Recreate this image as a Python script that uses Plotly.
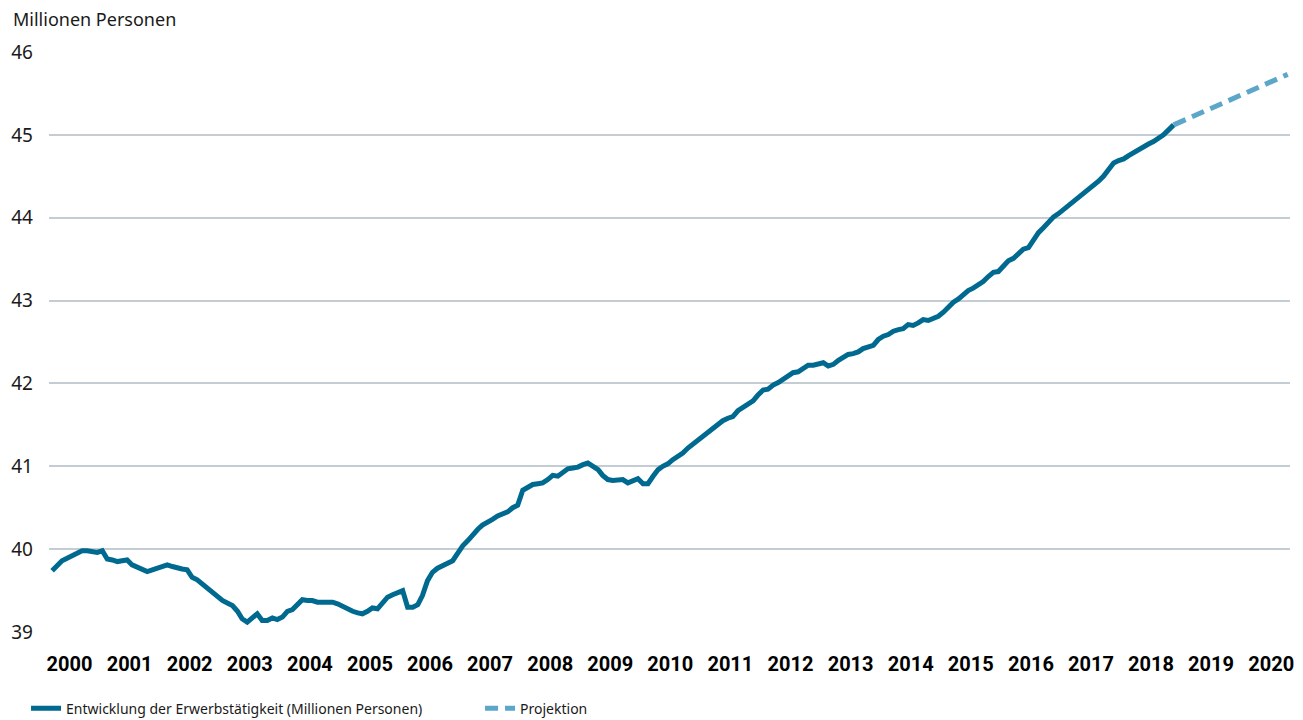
import pandas as pd
import plotly.graph_objects as go

# Erwerbstaetige, monatlich ab Januar 2000 (Millionen Personen)
start_monat = "2000-01-01"
erwerbstaetige = [
    # 2000
    39.74, 39.80, 39.86, 39.89, 39.92, 39.95, 39.98, 39.98, 39.97, 39.96, 39.98, 39.88,
    # 2001
    39.87, 39.85, 39.86, 39.87, 39.81, 39.78, 39.76, 39.73, 39.75, 39.77, 39.79, 39.81,
    # 2002
    39.79, 39.77, 39.76, 39.75, 39.66, 39.63, 39.58, 39.53, 39.47, 39.42, 39.38, 39.35,
    # 2003
    39.32, 39.25, 39.16, 39.12, 39.17, 39.22, 39.14, 39.14, 39.17, 39.15, 39.18, 39.25,
    # 2004
    39.27, 39.33, 39.39, 39.38, 39.38, 39.36, 39.36, 39.37, 39.36, 39.34, 39.31, 39.27,
    # 2005
    39.25, 39.23, 39.22, 39.25, 39.29, 39.28, 39.36, 39.42, 39.45, 39.47, 39.50, 39.30,
    # 2006
    39.30, 39.33, 39.44, 39.62, 39.72, 39.77, 39.80, 39.82, 39.86, 39.95, 40.04, 40.10,
    # 2007
    40.18, 40.24, 40.29, 40.32, 40.36, 40.40, 40.43, 40.45, 40.50, 40.53, 40.71, 40.75,
    # 2008
    40.78, 40.79, 40.80, 40.84, 40.89, 40.88, 40.93, 40.97, 40.98, 40.99, 41.02, 41.04,
    # 2009
    41.00, 40.96, 40.89, 40.84, 40.83, 40.83, 40.84, 40.80, 40.83, 40.85, 40.79, 40.79,
    # 2010
    40.88, 40.96, 41.00, 41.03, 41.08, 41.12, 41.16, 41.22, 41.27, 41.30, 41.36, 41.41,
    # 2011
    41.45, 41.50, 41.55, 41.58, 41.60, 41.67, 41.71, 41.74, 41.79, 41.86, 41.92, 41.93,
    # 2012
    41.98, 42.01, 42.05, 42.09, 42.13, 42.14, 42.18, 42.22, 42.22, 42.23, 42.25, 42.21,
    # 2013
    42.23, 42.28, 42.31, 42.35, 42.36, 42.38, 42.42, 42.44, 42.46, 42.53, 42.57, 42.59,
    # 2014
    42.63, 42.65, 42.66, 42.71, 42.70, 42.73, 42.77, 42.76, 42.78, 42.81, 42.86, 42.93,
    # 2015
    42.98, 43.02, 43.07, 43.12, 43.15, 43.19, 43.23, 43.29, 43.34, 43.35, 43.42, 43.48,
    # 2016
    43.51, 43.56, 43.62, 43.64, 43.74, 43.82, 43.88, 43.95, 44.01, 44.05, 44.10, 44.14,
    # 2017
    44.18, 44.23, 44.29, 44.34, 44.39, 44.44, 44.50, 44.57, 44.66, 44.69, 44.71, 44.75,
    # 2018
    44.79, 44.82, 44.86, 44.89, 44.92, 44.96, 45.00, 45.06, 45.12,
]

# Projektion: vom letzten Ist-Wert bis Mitte 2020
projektion_datum = ["2018-09-01", "2020-07-25"]
projektion_wert = [45.12, 45.73]

jahre = list(range(2000, 2021))
y_ticks = [39, 40, 41, 42, 43, 44, 45, 46]

monate = pd.date_range(start_monat, periods=len(erwerbstaetige), freq="MS")

dunkelblau = "#00698f"
hellblau = "#5ba6c9"
grid = "#c4cdd3"
text = "#1a1a1a"

fig = go.Figure()
fig.add_trace(go.Scatter(
    x=monate, y=erwerbstaetige, mode="lines",
    name="Entwicklung der Erwerbstätigkeit (Millionen Personen)",
    line=dict(color=dunkelblau, width=5),
))
fig.add_trace(go.Scatter(
    x=projektion_datum, y=projektion_wert, mode="lines",
    name="Projektion",
    line=dict(color=hellblau, width=5, dash="13px,7px"),
))

fig.update_layout(
    width=1303, height=720,
    margin=dict(l=49, r=13, t=52, b=88, autoexpand=False),
    plot_bgcolor="white", paper_bgcolor="white",
    font=dict(family="Noto Sans", size=18, color=text),
    showlegend=True,
    legend=dict(
        orientation="h", x=-0.0185, xanchor="left",
        y=-0.132, yanchor="middle",
        font=dict(size=14, color=text), entrywidth=409, entrywidthmode="pixels",
        itemwidth=30,
    ),
    annotations=[dict(
        text="Millionen Personen", xref="paper", yref="paper",
        x=-0.031, y=1.057, xanchor="left", yanchor="middle", showarrow=False,
        font=dict(size=18, color=text),
    )],
)
fig.update_xaxes(
    type="date", range=["1999-12-13", "2020-08-08"], automargin=False,
    tickvals=[f"{j}-04-16" for j in jahre], ticktext=[str(j) for j in jahre],
    showgrid=False, zeroline=False, showline=False, ticks="",
    ticklabelstandoff=18,
    tickfont=dict(family="Roboto", size=20, color="#000000", weight="bold"),
)
fig.update_yaxes(
    range=[39, 46], tickvals=y_ticks, ticktext=[str(v) for v in y_ticks],
    automargin=False,
    showgrid=True, gridcolor=grid, gridwidth=1.5, zeroline=False, showline=False,
    ticks="", ticklabelstandoff=15, tickfont=dict(size=19, color=text),
)

# Seitenrand des Browsers entfernen, damit das Bild bei (0, 0) beginnt
fig.write_html("out.html", config={"displayModeBar": False},
               post_script="document.body.style.margin='0';")
